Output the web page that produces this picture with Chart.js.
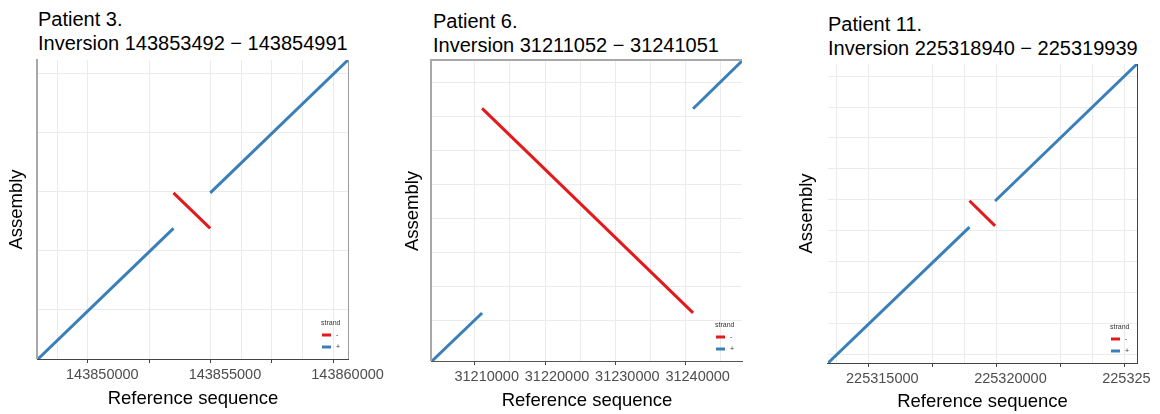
<!DOCTYPE html>
<html><head><meta charset="utf-8">
<script src="https://cdn.jsdelivr.net/npm/chart.js@4.4.1/dist/chart.umd.min.js"></script>
<style>
html,body{margin:0;padding:0;background:#fff;}
body{width:1160px;height:414px;position:relative;overflow:hidden;font-family:"Liberation Sans",Arial,sans-serif;}
.title{position:absolute;font-size:20px;line-height:24px;color:#000;white-space:nowrap;}
canvas{position:absolute;top:0;}
</style></head><body>
<div class="title" id="t1"></div>
<div class="title" id="t2"></div>
<div class="title" id="t3"></div>
<canvas id="c1" width="390" height="414"></canvas>
<canvas id="c2" width="390" height="414"></canvas>
<canvas id="c3" width="371" height="414"></canvas>
<script>
// ---------- DATA ----------
const xAxisTitle = "Reference sequence";
const yAxisTitle = "Assembly";
const legendTitle = "strand";
const strandNames = ["-", "+"];

// Patient 3
const p3Title = ["Patient 3.", "Inversion 143853492 \u2212 143854991"];
const p3RefX = [143847967, 143853492, 143853492, 143854991, 143854991, 143860610];
const p3AsmY = [0, 5525, 7025, 5525, 7025, 12644];
const p3Strand = ["+", "-", "+"];
const p3XRange = [143847967, 143860610];
const p3YRange = [0, 12644];
const p3XGrid = [143848750, 143850000, 143852500, 143855000, 143856250, 143857500, 143858750, 143860000];
const p3XMajor = [143850000, 143852500, 143855000, 143857500, 143860000];
const p3XLabels = [143850000, 143855000, 143860000];
const p3YGrid = [2076, 4576, 7076, 9576, 12076];

// Patient 6
const p6Title = ["Patient 6.", "Inversion 31211052 \u2212 31241051"];
const p6RefX = [31203926, 31211052, 31211052, 31241051, 31241051, 31248009];
const p6AsmY = [0, 7050, 37100, 7080, 37060, 44070];
const p6Strand = ["+", "-", "+"];
const p6XRange = [31203926, 31248009];
const p6YRange = [0, 44070];
const p6XGrid = [31210000, 31215000, 31220000, 31225000, 31230000, 31235000, 31240000, 31245000];
const p6XMajor = [31210000, 31220000, 31230000, 31240000];
const p6XLabels = [31210000, 31220000, 31230000, 31240000];
const p6YGrid = [5985, 10985, 15985, 20985, 25985, 30985, 35985, 40985];

// Patient 11
const p11Title = ["Patient 11.", "Inversion 225318940 \u2212 225319939"];
const p11RefX = [225313418, 225318940, 225318940, 225319939, 225319939, 225325479];
const p11AsmY = [0, 5500, 6570, 5550, 6560, 12105];
const p11Strand = ["+", "-", "+"];
const p11XRange = [225313418, 225325479];
const p11YRange = [0, 12105];
const p11XGrid = [225313750, 225315000, 225317500, 225318750, 225320000, 225322500, 225323750, 225325000];
const p11XMajor = [225315000, 225317500, 225320000, 225322500, 225325000];
const p11XLabels = [225315000, 225320000, 225325000];
const p11YGrid = [360, 1610, 2860, 4110, 5360, 6610, 7860, 9110, 10360, 11610];

// ---------- STYLE / LAYOUT ----------
const FONT = '"Liberation Sans", Arial, sans-serif';
const STRAND_COLOR = {"-": "#e31a1c", "+": "#3a7fb8"};
const H = 414;

const framePlugin = {
  id: 'frame',
  beforeDatasetsDraw(chart, args, opts) {
    const a = chart.chartArea, ctx = chart.ctx;
    ctx.save();
    (opts.sides || []).forEach(s => {
      ctx.strokeStyle = s.color; ctx.lineWidth = s.width;
      ctx.beginPath();
      const o = s.width / 2;
      if (s.side === 'left') { ctx.moveTo(a.left - o + 0.5*(s.width%2), a.top - s.width/2); ctx.lineTo(a.left - o + 0.5*(s.width%2), a.bottom); }
      if (s.side === 'right') { ctx.moveTo(a.right + 0.5, a.top); ctx.lineTo(a.right + 0.5, a.bottom); }
      if (s.side === 'top') { ctx.moveTo(a.left - 2, a.top - o); ctx.lineTo(a.right, a.top - o); }
      if (s.side === 'bottom') { ctx.moveTo(a.left - 1, a.bottom + 0.5); ctx.lineTo(a.right + 1, a.bottom + 0.5); }
      ctx.stroke();
    });
    ctx.restore();
  }
};

const legendPlugin = {
  id: 'strandLegend',
  afterDatasetsDraw(chart) {
    const a = chart.chartArea, ctx = chart.ctx;
    const x0 = a.right - 27, yb = a.bottom;
    ctx.save();
    ctx.font = '7px ' + FONT;
    ctx.fillStyle = '#333';
    ctx.textBaseline = 'middle';
    ctx.textAlign = 'left';
    ctx.fillText(legendTitle, x0, yb - 36);
    strandNames.forEach((name, i) => {
      const y = yb - 24 + i * 12;
      ctx.strokeStyle = STRAND_COLOR[name];
      ctx.lineWidth = 3;
      ctx.beginPath(); ctx.moveTo(x0 + 1, y); ctx.lineTo(x0 + 10, y); ctx.stroke();
      ctx.fillText(name, x0 + 15, y);
    });
    ctx.restore();
  }
};

function makePanel(cfg) {
  const t = document.getElementById(cfg.titleId);
  t.innerHTML = cfg.title[0] + '<br>' + cfg.title[1];
  t.style.left = cfg.titleLeft + 'px';
  t.style.top = cfg.titleTop + 'px';
  const canvas = document.getElementById(cfg.canvasId);
  canvas.style.left = cfg.left + 'px';
  const W = canvas.width;
  const [L, T, R, B] = cfg.area;
  const datasets = cfg.strand.map((s, i) => ({
    data: [{x: cfg.x[2*i], y: cfg.y[2*i]}, {x: cfg.x[2*i+1], y: cfg.y[2*i+1]}],
    borderColor: STRAND_COLOR[s],
    backgroundColor: STRAND_COLOR[s],
    borderWidth: 3,
    borderCapStyle: 'butt',
    showLine: true,
    pointRadius: 0,
    pointHoverRadius: 0,
    tension: 0,
    fill: false
  }));
  new Chart(canvas, {
    type: 'scatter',
    data: {datasets},
    options: {
      responsive: false,
      animation: false,
      devicePixelRatio: 1,
      events: [],
      layout: {padding: {left: 0, top: T, right: W - R, bottom: 0}},
      plugins: {
        legend: {display: false},
        tooltip: {enabled: false},
        frame: {sides: cfg.frame}
      },
      scales: {
        x: {
          type: 'linear',
          min: cfg.xRange[0], max: cfg.xRange[1],
          afterBuildTicks: s => { s.ticks = cfg.xGrid.map(v => ({value: v})); },
          afterFit: s => { s.height = H - B; s.paddingLeft = 0; s.paddingRight = 0; },
          ticks: {
            autoSkip: false, maxRotation: 0, minRotation: 0,
            color: '#4d4d4d', padding: 3, labelOffset: cfg.labelOffset,
            font: {family: FONT, size: 14.5},
            callback: v => cfg.xLabels.includes(v) ? String(v) : ''
          },
          grid: {
            color: '#ebebeb', lineWidth: 1, tickLength: 4,
            tickColor: ctx => (ctx.tick && cfg.xMajor.includes(ctx.tick.value)) ? '#444' : 'rgba(0,0,0,0)'
          },
          border: {display: false},
          title: {display: true, text: xAxisTitle, color: '#000',
                  font: {family: FONT, size: 18.5}, padding: {top: 0, bottom: cfg.xTitlePad}}
        },
        y: {
          type: 'linear',
          min: cfg.yRange[0], max: cfg.yRange[1],
          afterBuildTicks: s => { s.ticks = cfg.yGrid.map(v => ({value: v})); },
          afterFit: s => { s.width = L; s.paddingTop = 0; s.paddingBottom = 0; },
          ticks: {display: false},
          grid: {color: '#ebebeb', lineWidth: 1, drawTicks: false},
          border: {display: false},
          title: {display: true, text: yAxisTitle, color: '#000',
                  font: {family: FONT, size: 18.5}, padding: {top: cfg.yTitlePad, bottom: 0}}
        }
      }
    },
    plugins: [framePlugin, legendPlugin]
  });
}

makePanel({
  titleId: 't1', canvasId: 'c1', left: 0, title: p3Title, titleLeft: 38, titleTop: 7,
  area: [38, 60, 348, 359], xTitlePad: 4.4, yTitlePad: 5.4, labelOffset: 14.5,
  x: p3RefX, y: p3AsmY, strand: p3Strand, xRange: p3XRange, yRange: p3YRange,
  xGrid: p3XGrid, xMajor: p3XMajor, xLabels: p3XLabels, yGrid: p3YGrid,
  frame: [{side: 'left', color: '#a8a8a8', width: 2}, {side: 'right', color: '#9a9a9a', width: 1}, {side: 'bottom', color: '#444', width: 1}]
});
makePanel({
  titleId: 't2', canvasId: 'c2', left: 390, title: p6Title, titleLeft: 433, titleTop: 9,
  area: [42, 61, 352, 361], xTitlePad: 2.4, yTitlePad: 11.4, labelOffset: 12,
  x: p6RefX, y: p6AsmY, strand: p6Strand, xRange: p6XRange, yRange: p6YRange,
  xGrid: p6XGrid, xMajor: p6XMajor, xLabels: p6XLabels, yGrid: p6YGrid,
  frame: [{side: 'left', color: '#a8a8a8', width: 2}, {side: 'top', color: '#a8a8a8', width: 2}, {side: 'bottom', color: '#555', width: 1}]
});
makePanel({
  titleId: 't3', canvasId: 'c3', left: 780, title: p11Title, titleLeft: 828, titleTop: 12,
  area: [48, 64, 357, 363], xTitlePad: 1.4, yTitlePad: 15.6, labelOffset: 13.8,
  x: p11RefX, y: p11AsmY, strand: p11Strand, xRange: p11XRange, yRange: p11YRange,
  xGrid: p11XGrid, xMajor: p11XMajor, xLabels: p11XLabels, yGrid: p11YGrid,
  frame: [{side: 'right', color: '#444', width: 1}, {side: 'bottom', color: '#444', width: 1}]
});
</script>
</body></html>
